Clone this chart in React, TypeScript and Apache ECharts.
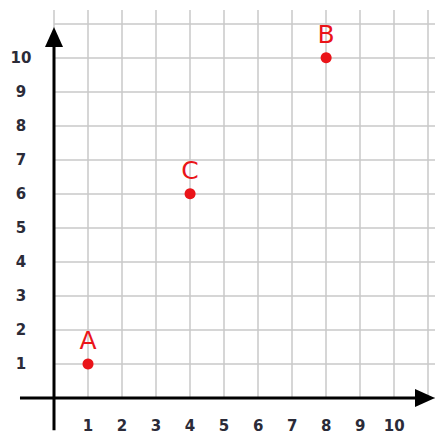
import React, { useEffect, useRef } from "react";
import * as echarts from "echarts";

const pointNames = ["A", "C", "B"];
const pointX = [1, 4, 8];
const pointY = [1, 6, 10];
const xTickValues = [1, 2, 3, 4, 5, 6, 7, 8, 9, 10];
const yTickValues = [1, 2, 3, 4, 5, 6, 7, 8, 9, 10];

const RED = "#ea1419";
const GRIDC = "#c9c9c9";
const LABELC = "#2b2b38";

export default function App() {
  const ref = useRef<HTMLDivElement>(null);
  useEffect(() => {
    if (!ref.current) return;
    const chart = echarts.init(ref.current, null, { renderer: "svg" });
    const labelFont = {
      fontFamily: "DejaVu Sans",
      fontWeight: "bold" as const,
      fontSize: 15,
      color: LABELC,
    };
    chart.setOption({
      animation: false,
      backgroundColor: "#ffffff",
      grid: { left: 54, right: 3, top: 10, bottom: 36, containLabel: false },
      xAxis: {
        type: "value",
        min: 0,
        max: 11.2,
        interval: 1,
        axisLine: { show: false },
        axisTick: { show: false },
        splitLine: { show: true, showMaxLine: false, lineStyle: { color: GRIDC, width: 1.5 } },
        axisLabel: {
          ...labelFont,
          margin: 20,
          showMinLabel: true,
          showMaxLabel: false,
          formatter: (v: number) => (xTickValues.includes(v) ? String(v) : ""),
        },
      },
      yAxis: {
        type: "value",
        min: 0,
        max: 11.4,
        interval: 1,
        axisLine: { show: false },
        axisTick: { show: false },
        splitLine: { show: true, showMaxLine: false, lineStyle: { color: GRIDC, width: 1.5 } },
        axisLabel: {
          ...labelFont,
          margin: 33,
          align: "center",
          showMaxLabel: false,
          formatter: (v: number) => (yTickValues.includes(v) ? String(v) : ""),
        },
      },
      series: [
        {
          type: "scatter",
          symbol: "circle",
          symbolSize: 11,
          itemStyle: { color: RED, opacity: 1 },
          data: pointNames.map((n, i) => ({ name: n, value: [pointX[i], pointY[i]] })),
          label: {
            show: true,
            position: "top",
            distance: 5,
            formatter: "{b}",
            fontFamily: "DejaVu Sans",
            fontSize: 25,
            color: RED,
          },
          z: 5,
        },
      ],
    });

    const o = chart.convertToPixel({ gridIndex: 0 }, [0, 0]) as number[];
    const ox = o[0];
    const oy = o[1];
    const xTip = chart.convertToPixel({ gridIndex: 0 }, [11.2, 0]) as number[];
    const yTip = chart.convertToPixel({ gridIndex: 0 }, [0, 10.9]) as number[];
    const xLeft = chart.convertToPixel({ gridIndex: 0 }, [-1, 0]) as number[];
    const yBottom = chart.convertToPixel({ gridIndex: 0 }, [0, -0.95]) as number[];
    const ah = 20;
    const aw = 9;
    const lineStyle = { stroke: "#000", lineWidth: 3 };
    chart.setOption({
      graphic: [
        {
          type: "line",
          z: 10,
          shape: { x1: xLeft[0], y1: oy, x2: xTip[0] - ah + 2, y2: oy },
          style: lineStyle,
        },
        {
          type: "polygon",
          z: 10,
          shape: {
            points: [
              [xTip[0], oy],
              [xTip[0] - ah, oy - aw],
              [xTip[0] - ah, oy + aw],
            ],
          },
          style: { fill: "#000" },
        },
        {
          type: "line",
          z: 10,
          shape: { x1: ox, y1: yBottom[1], x2: ox, y2: yTip[1] + ah - 2 },
          style: lineStyle,
        },
        {
          type: "polygon",
          z: 10,
          shape: {
            points: [
              [ox, yTip[1]],
              [ox - aw, yTip[1] + ah],
              [ox + aw, yTip[1] + ah],
            ],
          },
          style: { fill: "#000" },
        },
      ],
    });
    return () => chart.dispose();
  }, []);
  return (
    <div
      ref={ref}
      style={{ position: "fixed", left: 0, top: 0, width: 438, height: 434 }}
    />
  );
}
